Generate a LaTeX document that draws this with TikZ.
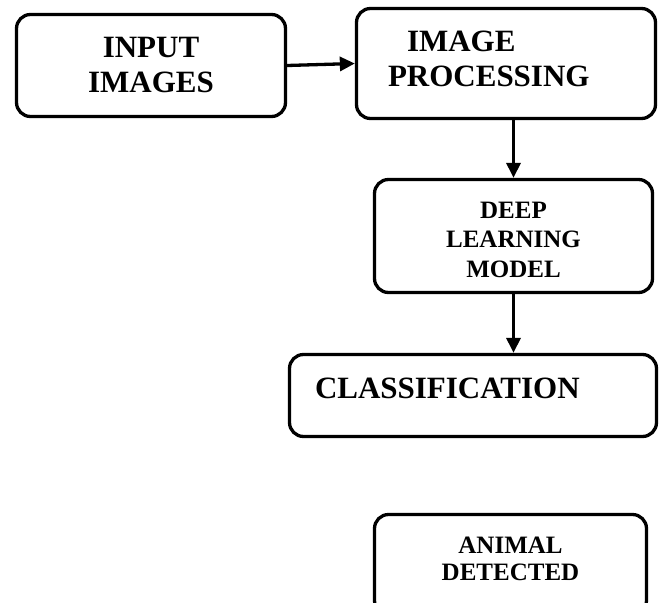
\documentclass[tikz,border=0pt]{standalone}
\usepackage{fontspec}
\setmainfont{Liberation Serif}
\usetikzlibrary{arrows.meta}
\begin{document}
\begin{tikzpicture}[x=1pt,y=1pt]
\tikzstyle{stage}=[draw, black, line width=3.3pt, rounded corners=14pt, inner sep=0pt]
\tikzstyle{bigtext}=[font=\bfseries\fontsize{31}{35}\selectfont]
\tikzstyle{smalltext}=[font=\bfseries\fontsize{25}{29.5}\selectfont]
\tikzstyle{flow}=[black, line width=3.3pt, -{Triangle[length=15pt,width=14pt]}]
\useasboundingbox (0,0) rectangle (660,-602);
\node [stage, bigtext, align=center, minimum width=269pt, minimum height=102pt] (input) at (151,-65.5) {INPUT\\IMAGES};
\node [stage, bigtext, align=left, inner xsep=31.5pt, text width=236pt, minimum height=110pt, text height=20.5pt, text depth=43.5pt] (improc) at (506,-63.5) {\hspace*{19pt}IMAGE\\PROCESSING};
\node [stage, smalltext, align=center, minimum width=278pt, minimum height=113pt, text height=82pt, text depth=0pt] (deep) at (513.5,-236) {DEEP\\LEARNING\\MODEL};
\node [stage, bigtext, align=left, inner xsep=25.5pt, text width=316pt, minimum height=82pt, text height=22pt, text depth=16pt] (class) at (473,-395.5) {CLASSIFICATION};
\node [stage, smalltext, align=center, minimum width=272pt, minimum height=100pt, text height=44pt, text depth=13pt] (animal) at (510.5,-564.5) {ANIMAL\\[-2.5pt]DETECTED};
\draw [flow] (input.east) -- (improc.west);
\draw [flow] (deep.north |- improc.south) -- (deep.north);
\draw [flow] (deep.south) -- (deep.south |- class.north);
\end{tikzpicture}
\end{document}
